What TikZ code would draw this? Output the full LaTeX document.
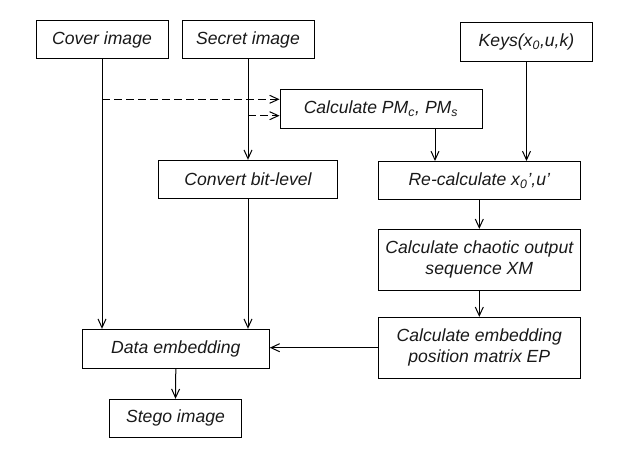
\documentclass[tikz,border=0pt]{standalone}
\usepackage{fontspec}
\setmainfont{Liberation Sans}
\usetikzlibrary{arrows.meta}
\tikzset{every picture/.style={line width=0.75pt}}
\tikzset{
	blk/.style={draw, minimum width=#1, minimum height=28.5pt, inner sep=0.75pt, align=center, text=black!90, font=\fontsize{13.2}{15.5}\selectfont\itshape},
	tallblk/.style={blk=#1, minimum height=45.5pt},
	arr/.style={-{Straight Barb[length=6.5pt,width=6pt]}},
	dasharr/.style={arr, dash pattern=on 6pt off 3pt}
}

\begin{document}
\begin{tikzpicture}[x=0.75pt,y=0.75pt,yscale=-1,xscale=1]
	\useasboundingbox (0,0) rectangle (626,450);
	
	%Blocks
	\node [blk=99pt] (cover) at (102,39.5) {Cover image};
	\node [blk=99pt] (secret) at (248,39.5) {Secret image};
	\node [blk=99.3pt, minimum height=29.25pt] (keys) at (526.5,41.8) {Keys(x\textsubscript{0},u,k)};
	\node [blk=151.5pt, minimum height=29.25pt] (pm) at (381,108.8) {Calculate PM\textsubscript{c}, PM\textsubscript{s}};
	\node [blk=134.25pt] (convert) at (248,179.3) {Convert bit-level};
	\node [blk=151.5pt] (recalc) at (479.3,180.5) {Re-calculate x\textsubscript{0}',u'};
	\node [tallblk=151.5pt] (chaotic) at (479.3,259.7) {Calculate chaotic output\\sequence XM};
	\node [tallblk=151.5pt] (ep) at (479.3,347.7) {Calculate embedding\\position matrix EP};
	\node [blk=140.25pt, minimum height=29.25pt] (data) at (175.8,348.8) {Data embedding};
	\node [blk=99.3pt] (stego) at (175.5,418.3) {Stego image};
	
	%Tap points
	\coordinate (tapc) at (102,99.3);
	\coordinate (taps) at (248,115.7);
	\coordinate (pmout) at (435,128.3);
	
	%Connectors
	\draw [arr] (cover.south) -- (cover.south |- data.north);
	\draw [arr] (secret.south) -- (convert.north);
	\draw [dasharr] (tapc) -- (tapc -| pm.west);
	\draw [dasharr] (taps) -- (taps -| pm.west);
	\draw [arr] (pmout) -- (pmout |- recalc.north);
	\draw [arr] (keys.south) -- (keys.south |- recalc.north);
	\draw [arr] (convert.south) -- (convert.south |- data.north);
	\draw [arr] (recalc.south) -- (chaotic.north);
	\draw [arr] (chaotic.south) -- (ep.north);
	\draw [arr] (ep.west) -- (ep.west -| data.east);
	\draw [arr] (data.south) -- (stego.north);
	
\end{tikzpicture}
\end{document}
